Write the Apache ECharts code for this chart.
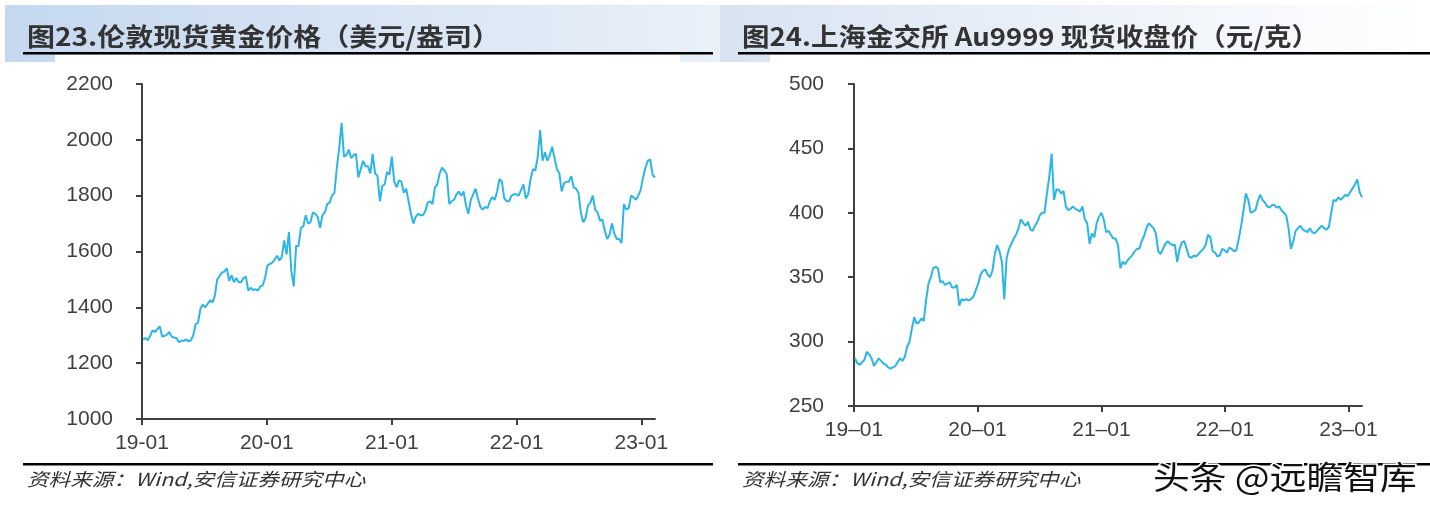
<!DOCTYPE html>
<html><head><meta charset="utf-8">
<script src="https://cdn.jsdelivr.net/npm/echarts@6/dist/echarts.min.js"></script>
<style>html,body{margin:0;padding:0;background:#fff}#c{width:1430px;height:510px}</style>
</head><body><div id="c"></div>
<script>
// ---- data ----
const leftTitle = '图23.伦敦现货黄金价格（美元/盎司）';
const rightTitle = '图24.上海金交所 Au9999 现货收盘价（元/克）';
const sourceText = '资料来源：Wind,安信证券研究中心';
const watermark = '头条 @远瞻智库';
const leftXLabels = ['19-01', '20-01', '21-01', '22-01', '23-01'];
const rightXLabels = ['19–01', '20–01', '21–01', '22–01', '23–01'];
const tickDates = ['2019-01-01', '2020-01-01', '2021-01-01', '2022-01-01', '2023-01-01'];
const firstWeek = '2019-01-04'; // weekly observations (Fridays)
const axisEnd = '2023-02-10';

// London spot gold, USD/oz, weekly
const london2019 = [1285,1290,1282,1298, 1318,1312,1322,1332, 1295,1298,1302,1312,1295, 1292,1290,1275,1280, 1280,1285,1278,1282,1300, 1340,1345,1395,1410, 1400,1412,1425,1418, 1440,1500,1512,1525,1528, 1540,1495,1515,1490, 1505,1490,1490,1505, 1510,1460,1470,1462,1465, 1460,1475,1478,1505];
const london2020 = [1550,1555,1560,1570,1585, 1568,1580,1640,1590, 1670,1530,1475,1620, 1620,1685,1690,1730, 1700,1705,1740,1735,1725, 1685,1730,1740,1770, 1775,1800,1810,1900,1970, 2060,1940,1945,1965, 1935,1945,1950,1865, 1895,1925,1905,1905,1880, 1950,1880,1870,1780, 1835,1840,1885,1875];
const london2021 = [1940,1850,1830,1855,1850, 1810,1825,1780,1735, 1700,1725,1735,1730, 1730,1745,1775,1780,1770, 1830,1840,1880,1900, 1890,1875,1770,1780, 1785,1805,1815,1800,1815, 1765,1735,1785,1805, 1825,1790,1760,1750, 1760,1755,1780,1795,1785, 1815,1860,1850,1790, 1780,1780,1800,1805,1805];
const london2022 = [1800,1820,1840,1790, 1805,1860,1895,1890, 1940,2035,1925,1955, 1925,1945,1975,1935,1895, 1880,1815,1845,1850, 1850,1870,1830,1825, 1810,1740,1705,1720,1765, 1775,1800,1750,1740, 1710,1715,1675,1645,1660, 1700,1665,1645,1645, 1630,1770,1750,1755, 1800,1795,1785,1800,1820];
const london2023 = [1865,1900,1925,1930, 1875,1865];

// SGE Au9999 close, CNY/g, weekly
const sge2019 = [287,283,282,284, 286,292,290,287, 281,284,287,285,283, 282,280,279,280, 281,284,287,285,288, 296,300,310,319, 314,315,318,316, 332,345,350,357,358, 357,346,347,344, 345,346,342,342, 344,328,333,332,333, 332,333,335,340];
const sge2020 = [345,352,355,356,352, 350,355,368,375, 370,362,333,365, 372,376,380,383, 388,395,392,390,393, 387,386,390,393, 398,400,400,415,428, 446,410,418,418, 415,417,405,402, 403,405,403,402,401, 405,395,392,376, 384,381,392,397];
const sge2021 = [400,395,385,386,383, 380,380,375,357, 362,360,363,365, 367,370,372,372,378, 382,388,392,390, 388,384,370,368, 372,376,378,376,375, 375,362,372,377, 378,372,366,365, 367,366,368,370,372, 375,383,381,370, 369,366,367,372,371];
const sge2022 = [369,373,372,370, 371,380,390,402, 415,410,400,401, 402,409,414,410,408, 405,404,406,406, 404,405,402,400, 398,388,372,378,386, 388,390,387,386, 385,388,385,384,386, 388,390,388,387, 389,400,410,409, 412,410,412,414,413];
const sge2023 = [416,419,422,426, 416,412];

// ---- build ----
const DAY = 86400000;
const t0 = Date.parse('2019-01-01T00:00:00Z');
const dayOf = s => Math.round((Date.parse(s + 'T00:00:00Z') - t0) / DAY);
const tickDays = tickDates.map(dayOf);
const maxDay = dayOf(axisEnd);
const w0 = dayOf(firstWeek);
const toPairs = arr => arr.map((v, i) => [w0 + 7 * i, v]);
const londonData = toPairs([].concat(london2019, london2020, london2021, london2022, london2023));
const sgeData = toPairs([].concat(sge2019, sge2020, sge2021, sge2022, sge2023));

const AX = '#404040';
const LINE = '#2BB6E7';
const NUMFONT = '"Liberation Sans", Arial, sans-serif';
const CJK = '"Noto Sans CJK SC", sans-serif';

function xAxis(grid, labels, font, margin) {
  return {
    gridIndex: grid, type: 'value', min: 0, max: maxDay,
    axisLine: { show: true, lineStyle: { color: AX, width: 2 } },
    axisTick: { show: true, customValues: tickDays, length: 6, lineStyle: { color: AX, width: 2 } },
    axisLabel: { customValues: tickDays, margin: margin, color: AX, fontSize: 21, fontFamily: font,
      formatter: v => labels[tickDays.indexOf(v)] },
    splitLine: { show: false }
  };
}
function yAxis(grid, min, max, interval, margin) {
  return {
    gridIndex: grid, type: 'value', min, max, interval,
    axisLine: { show: true, lineStyle: { color: AX, width: 2 } },
    axisTick: { show: true, length: 6, lineStyle: { color: AX, width: 2 } },
    axisLabel: { margin: margin, color: AX, fontSize: 21, fontFamily: NUMFONT, formatter: v => String(v) },
    splitLine: { show: false }
  };
}

const chart = echarts.init(document.getElementById('c'), null, { renderer: 'canvas' });
chart.setOption({
  backgroundColor: '#fff',
  animation: false,
  grid: [
    { left: 142, top: 84, width: 513, height: 335 },
    { left: 854, top: 84, width: 508, height: 322 }
  ],
  xAxis: [xAxis(0, leftXLabels, '"Liberation Sans Narrow", ' + NUMFONT, 14), xAxis(1, rightXLabels, NUMFONT, 14)],
  yAxis: [yAxis(0, 1000, 2200, 200, 29), yAxis(1, 250, 500, 50, 30)],
  series: [
    { type: 'line', xAxisIndex: 0, yAxisIndex: 0, data: londonData, showSymbol: false, lineStyle: { color: LINE, width: 2 } },
    { type: 'line', xAxisIndex: 1, yAxisIndex: 1, data: sgeData, showSymbol: false, lineStyle: { color: LINE, width: 2 } }
  ],
  graphic: [
    { type: 'rect', z: 0, shape: { x: 5, y: 5, width: 715, height: 57 },
      style: { fill: new echarts.graphic.LinearGradient(0, 0, 1, 0, [{ offset: 0, color: '#c5d8ef' }, { offset: 1, color: '#e9f0f8' }]) } },
    { type: 'rect', z: 0, shape: { x: 720, y: 5, width: 710, height: 57 },
      style: { fill: new echarts.graphic.LinearGradient(0, 0, 1, 0, [{ offset: 0, color: '#d8e3f2' }, { offset: 1, color: '#ffffff' }]) } },
    { type: 'rect', z: 1, shape: { x: 55, y: 55, width: 625, height: 10 }, style: { fill: '#fff' } },
    { type: 'rect', z: 1, shape: { x: 770, y: 55, width: 660, height: 10 }, style: { fill: '#fff' } },
    { type: 'rect', z: 2, shape: { x: 23, y: 52, width: 690, height: 2.5 }, style: { fill: '#000' } },
    { type: 'rect', z: 2, shape: { x: 738, y: 52, width: 692, height: 2.5 }, style: { fill: '#000' } },
    { type: 'text', z: 3, x: 27, y: 36, scaleX: 1.12, style: { text: leftTitle, fill: '#333', font: 'bold 25px ' + CJK, textVerticalAlign: 'middle' } },
    { type: 'text', z: 3, x: 742, y: 36, scaleX: 1.1, style: { text: rightTitle, fill: '#333', font: 'bold 25px ' + CJK, textVerticalAlign: 'middle' } },
    { type: 'rect', z: 2, shape: { x: 23, y: 463, width: 690, height: 2.5 }, style: { fill: '#000' } },
    { type: 'rect', z: 2, shape: { x: 738, y: 463, width: 692, height: 2.5 }, style: { fill: '#000' } },
    { type: 'text', z: 3, x: 27, y: 479, scaleX: 1.2, style: { text: sourceText, fill: '#333', font: 'italic 18px ' + CJK, textVerticalAlign: 'middle' } },
    { type: 'text', z: 3, x: 742, y: 479, scaleX: 1.2, style: { text: sourceText, fill: '#333', font: 'italic 18px ' + CJK, textVerticalAlign: 'middle' } },
    { type: 'text', z: 5, x: 1153, y: 477, scaleX: 1.15, style: { text: watermark, fill: '#111', stroke: '#fff', lineWidth: 3, font: '32px ' + CJK, textVerticalAlign: 'middle' } }
  ]
});
</script>
</body></html>
